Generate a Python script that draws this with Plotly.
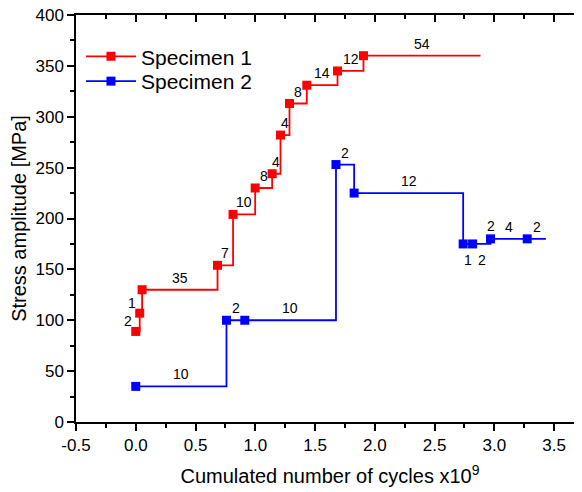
import numpy as np
import plotly.graph_objects as go

# ---------------- data ----------------
s1_x = [0.0, 0.033, 0.053, 0.684, 0.814, 0.999, 1.141, 1.211, 1.286, 1.431, 1.688, 1.905]
s1_y = [89, 107, 130, 154, 204, 230, 244, 282, 313, 331, 345, 360]
s1_end_x = 2.884
s1_labels = ["2", "1", "35", "7", "10", "8", "4", "4", "8", "14", "12", "54"]
s1_label_side = ["left", "left", "above", "above", "above", "above", "above",
                 "above", "above", "above", "above", "above"]

s2_x = [0.0, 0.759, 0.912, 1.675, 1.827, 2.739, 2.818, 2.968, 3.275]
s2_y = [35, 100, 100, 253, 225, 175, 175, 180, 180]
s2_end_x = 3.431
s2_labels = ["10", "2", "10", "2", "12", "1", "2", "4", "2"]
s2_label_side = ["above", "above", "above", "above", "above", "below", "below",
                 "above", "above"]
s2_point_labels = {7: "2"}

x_ticks = [-0.5, 0.0, 0.5, 1.0, 1.5, 2.0, 2.5, 3.0, 3.5]
x_tick_labels = ["-0.5", "0.0", "0.5", "1.0", "1.5", "2.0", "2.5", "3.0", "3.5"]
y_ticks = [0, 50, 100, 150, 200, 250, 300, 350, 400]
y_tick_labels = [str(v) for v in y_ticks]

FONT = "Liberation Sans, Arial, sans-serif"
RED = "#FF0000"
BLUE = "#0000FF"

x_range = [-0.5, 3.75]
y_range = [0, 400]
x_minor = list(np.arange(-0.5, 3.76, 0.25))
y_minor = list(np.arange(0, 401, 25))

fig = go.Figure()

def add_series(xs, ys, end_x, name, color, legend):
    fig.add_trace(go.Scatter(
        x=xs, y=ys, mode="lines+markers", name=name, legend=legend,
        line=dict(color=color, width=1.8, shape="hv"),
        marker=dict(symbol="square", size=9, color=color),
    ))
    fig.add_trace(go.Scatter(
        x=[xs[-1], end_x], y=[ys[-1], ys[-1]], mode="lines",
        line=dict(color=color, width=1.8), showlegend=False, hoverinfo="skip",
    ))

add_series(s1_x, s1_y, s1_end_x, "Specimen 1", RED, "legend")
add_series(s2_x, s2_y, s2_end_x, "Specimen 2", BLUE, "legend2")

# dummy trace for mirrored axes
fig.add_trace(go.Scatter(x=[None], y=[None], xaxis="x2", yaxis="y2",
                         showlegend=False, hoverinfo="skip"))

annotations = []

def seg_labels(xs, ys, end_x, labels, sides):
    nxt = xs[1:] + [end_x]
    for i, (t, side) in enumerate(zip(labels, sides)):
        if side == "left":
            ax, xs_, ys_ = xs[i], -8, 10
        elif side == "below":
            ax, xs_, ys_ = (xs[i] + nxt[i]) / 2, 0, -16
        else:
            ax, xs_, ys_ = (xs[i] + nxt[i]) / 2, 0, 12
        annotations.append(dict(
            x=ax, y=ys[i], xref="x", yref="y", text=t, showarrow=False,
            xshift=xs_, yshift=ys_, font=dict(family=FONT, size=14, color="black")))

seg_labels(s1_x, s1_y, s1_end_x, s1_labels, s1_label_side)
seg_labels(s2_x, s2_y, s2_end_x, s2_labels, s2_label_side)
for i, t in s2_point_labels.items():
    annotations.append(dict(
        x=s2_x[i], y=s2_y[i], xref="x", yref="y", text=t, showarrow=False,
        yshift=13, font=dict(family=FONT, size=14, color="black")))

axis_common = dict(showgrid=False, zeroline=False, showline=True, linecolor="black",
                   linewidth=1.5, tickcolor="black", tickwidth=1.5, ticklen=7,
                   automargin=False)

legend_common = dict(xanchor="left", yanchor="top", bgcolor="rgba(0,0,0,0)",
                     font=dict(family=FONT, size=21, color="black"), itemwidth=50)

fig.update_layout(
    width=582, height=492,
    margin=dict(l=68, r=6, t=7, b=78, pad=0),
    plot_bgcolor="white", paper_bgcolor="white",
    font=dict(family=FONT, color="black"),
    annotations=annotations,
    showlegend=True,
    legend=dict(x=0.0098, y=0.948, **legend_common),
    legend2=dict(x=0.0098, y=0.887, **legend_common),
    xaxis=dict(range=x_range, tickmode="array", tickvals=x_ticks, ticktext=x_tick_labels,
               ticks="outside", tickfont=dict(family=FONT, size=17),
               ticklabeloverflow="allow",
               minor=dict(tickmode="array", tickvals=x_minor, ticks="outside", ticklen=4,
                          tickwidth=1.5, tickcolor="black"),
               title=dict(text="Cumulated number of cycles x10<sup>9</sup>",
                          font=dict(family=FONT, size=20), standoff=15),
               **axis_common),
    yaxis=dict(range=y_range, tickmode="array", tickvals=y_ticks, ticktext=y_tick_labels,
               ticks="outside", tickfont=dict(family=FONT, size=17),
               ticklabeloverflow="allow",
               minor=dict(tickmode="array", tickvals=y_minor, ticks="outside", ticklen=4,
                          tickwidth=1.5, tickcolor="black"),
               title=dict(text="Stress amplitude [MPa]",
                          font=dict(family=FONT, size=20), standoff=5),
               **axis_common),
    xaxis2=dict(range=x_range, overlaying="x", side="top", anchor="y2",
                tickmode="array", tickvals=x_ticks, ticks="inside", showticklabels=False,
                minor=dict(tickmode="array", tickvals=x_minor, ticks="inside", ticklen=4,
                           tickwidth=1.5, tickcolor="black"),
                **axis_common),
    yaxis2=dict(range=y_range, overlaying="y", side="right", anchor="x2",
                tickmode="array", tickvals=y_ticks, ticks="inside", showticklabels=False,
                minor=dict(tickmode="array", tickvals=y_minor, ticks="inside", ticklen=4,
                           tickwidth=1.5, tickcolor="black"),
                **axis_common),
)

fig.write_html("out.html")
